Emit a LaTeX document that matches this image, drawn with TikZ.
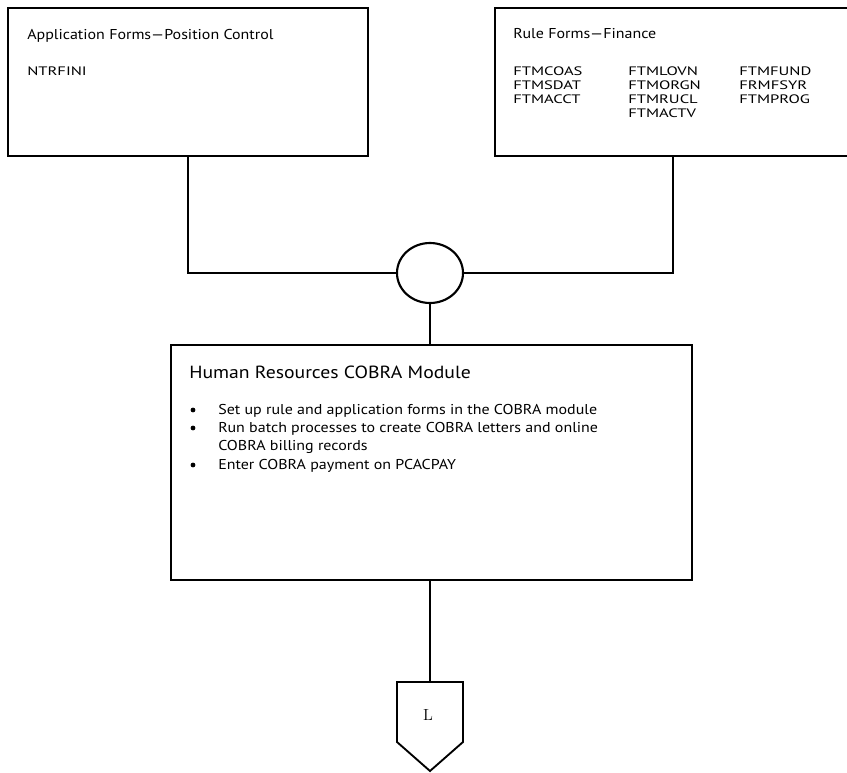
\documentclass[tikz,border=0pt]{standalone}
\usepackage{fontspec}
\newfontfamily\formfont[FakeStretch=1.12]{PT Sans}
\newfontfamily\codefont[FakeStretch=1.35]{PT Sans}
\usetikzlibrary{positioning, shapes.geometric}
\tikzset{
  formbox/.style={rectangle,draw,line width=1.4pt,inner sep=0pt,outer sep=0pt,anchor=north west},
  txt/.style={anchor=base west,inner sep=0pt,font=\formfont\fontsize{10.7}{13}\selectfont},
  codetxt/.style={anchor=base west,inner sep=0pt,font=\codefont\fontsize{9.2}{11}\selectfont},
  head/.style={anchor=base west,inner sep=0pt,font=\formfont\fontsize{13.2}{16}\selectfont},
  dot/.style={circle,fill,inner sep=0pt,minimum size=3.6pt},
  link/.style={line width=1.4pt}
}
\begin{document}
\begin{tikzpicture}[x=0.75pt,y=-0.75pt]
\useasboundingbox (0,0) rectangle (847,772);
% form boxes
\node[formbox, minimum width=270pt, minimum height=111pt] (appbox) at (8,8) {};
\node[formbox, minimum width=267pt, minimum height=111pt] (rulebox) at (495,8) {};
\node[formbox, minimum width=390.75pt, minimum height=176.25pt] (hrbox) at (171,345) {};
% texts
\node[txt] (apptitle) at (27,39) {Application Forms—Position Control};
\node[codetxt] (ntrfini) at (27,75) {NTRFINI};
\node[txt] (ruletitle) at (513,38) {Rule Forms—Finance};
\foreach \code/\col/\row in {FTMCOAS/513/75, FTMSDAT/513/89, FTMACCT/513/103,
    FTMLOVN/628/75, FTMORGN/628/89, FTMRUCL/628/103, FTMACTV/628/117,
    FTMFUND/739/75, FRMFSYR/739/89, FTMPROG/739/103}
  \node[codetxt] (\code) at (\col,\row) {\code};
\node[head] (hrtitle) at (189,378) {Human Resources COBRA Module};
\node[txt] (step1) at (218,414) {Set up rule and application forms in the COBRA module};
\node[txt] (step2) at (218,432) {Run batch processes to create COBRA letters and online};
\node[txt] (step2b) at (218,450) {COBRA billing records};
\node[txt] (step3) at (218,469) {Enter COBRA payment on PCACPAY};
\foreach \row in {410,428,465}
  \node[dot] (b\row) at (193,\row) {};
% connector
\node[ellipse, draw, line width=1.6pt, minimum width=49.5pt, minimum height=45pt] (join) at (430,273) {};
\draw[link] (appbox.south) |- (join.west);
\draw[link] (rulebox.south) |- (join.east);
\draw[link] (join.south) -- (join.south |- hrbox.north);
% off-page connector
\coordinate (offtop) at (430,682);
\draw[link] (397,682) -- (463,682) -- (463,742) -- (430,771) -- (397,742) -- cycle;
\node[font=\fontsize{12}{14}\selectfont] (offlabel) at (428,715) {L};
\draw[link] (offtop |- hrbox.south) -- (offtop);
\end{tikzpicture}
\end{document}
